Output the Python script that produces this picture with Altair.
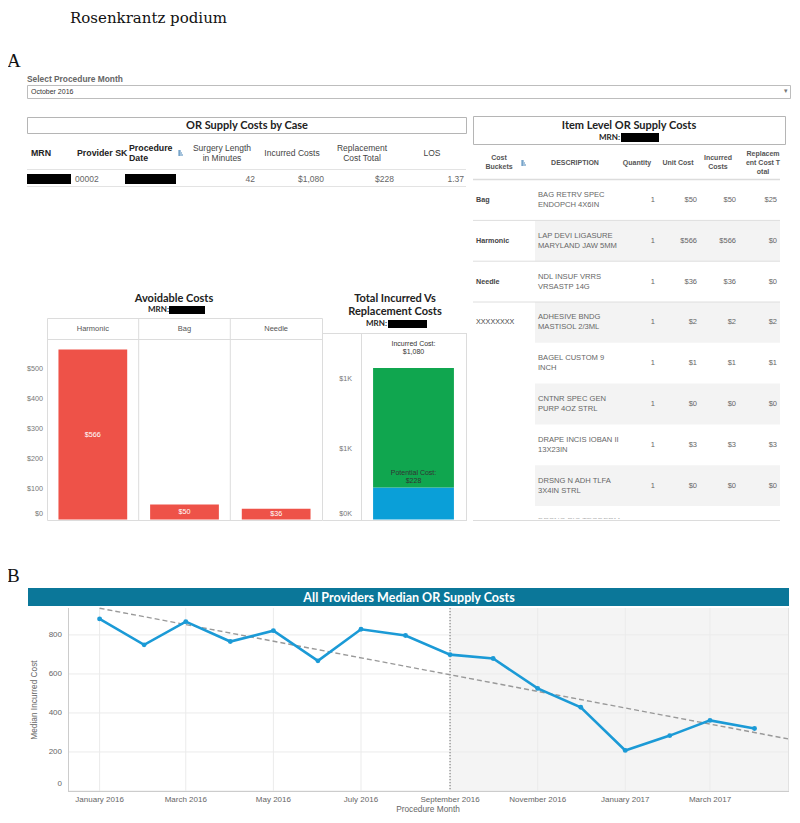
import altair as alt
import pandas as pd

# ---------------- data ----------------
selected_month = "October 2016"

case_provider = "00002"
case_minutes = 42
case_incurred = 1080
case_replacement = 228
case_los = 1.37

avoid_buckets = ["Harmonic", "Bag", "Needle"]
avoid_costs = [566, 50, 36]
avoid_ticks = [0, 100, 200, 300, 400, 500]

total_parts = ["Potential", "Incurred"]
total_ticks = [0, 500, 1000]
total_tick_labels = ["$0K", "$1K", "$1K"]

item_rows = [0, 1, 2, 3, 4, 5, 6, 7, 8]
item_bucket = ["Bag", "Harmonic", "Needle", "XXXXXXXX", "", "", "", "", ""]
item_desc = [
    "BAG RETRV SPEC\nENDOPCH 4X6IN",
    "LAP DEVI LIGASURE\nMARYLAND JAW 5MM",
    "NDL INSUF VRRS\nVRSASTP 14G",
    "ADHESIVE BNDG\nMASTISOL 2/3ML",
    "BAGEL CUSTOM 9\nINCH",
    "CNTNR SPEC GEN\nPURP 4OZ STRL",
    "DRAPE INCIS IOBAN II\n13X23IN",
    "DRSNG N ADH TLFA\n3X4IN STRL",
    "DRSNG PIC TEGDERM\n",
]
item_qty = [1, 1, 1, 1, 1, 1, 1, 1, None]
item_unit = [50, 566, 36, 2, 1, 0, 3, 0, None]
item_incurred = [50, 566, 36, 2, 1, 0, 3, 0, None]
item_replacement = [25, 0, 0, 2, 1, 0, 3, 0, None]

months = ["2016-01-01", "2016-02-01", "2016-03-01", "2016-04-01", "2016-05-01",
          "2016-06-01", "2016-07-01", "2016-08-01", "2016-09-01", "2016-10-01",
          "2016-11-01", "2016-12-01", "2017-01-01", "2017-02-01", "2017-03-01",
          "2017-04-01"]
median_cost = [882, 749, 868, 766, 822, 667, 829, 797, 699, 679, 526, 429, 208,
               284, 362, 320]
x_ticks = ["2016-01-01", "2016-03-01", "2016-05-01", "2016-07-01", "2016-09-01",
           "2016-11-01", "2017-01-01", "2017-03-01"]
x_tick_labels = ["January 2016", "March 2016", "May 2016", "July 2016",
                 "September 2016", "November 2016", "January 2017", "March 2017"]
y_ticks = [0, 200, 400, 600, 800]
band_start = "2016-09-01"
axis_start = "2015-12-10"
axis_end = "2017-04-25"

# ---------------- style ----------------
SANS = "Liberation Sans"
TFONT = "Lato"
SERIF = "DejaVu Serif"
RED = "#ee5248"
BLUE = "#0a9fd8"
GREEN = "#10a64f"
TEAL = "#0b7799"
LBLUE = "#1b9ad6"
OFF = 8


def p(v):
    return v - OFF


def txt(s, x, y, size=8, color="#555", weight="normal", align="left",
        baseline="middle", font=SANS, angle=None):
    kw = dict(text=s, fontSize=size, color=color, fontWeight=weight,
              align=align, baseline=baseline, font=font)
    if angle is not None:
        kw["angle"] = angle
    return alt.Chart().mark_text(**kw).encode(x=alt.value(p(x)), y=alt.value(p(y)))


def box(x1, y1, x2, y2, fill=None, stroke=None, sw=1.0):
    kw = {}
    if fill is not None:
        kw["fill"] = fill
    else:
        kw["fill"] = "#ffffff"
        kw["fillOpacity"] = 0
    if stroke is not None:
        kw["stroke"] = stroke
        kw["strokeWidth"] = sw
    return alt.Chart().mark_rect(**kw).encode(
        x=alt.value(p(x1)), x2=alt.value(p(x2)), y=alt.value(p(y1)), y2=alt.value(p(y2)))


def hline(x1, x2, y, color="#dddddd", sw=1.0, dash=None):
    kw = dict(color=color, strokeWidth=sw)
    if dash:
        kw["strokeDash"] = dash
    return alt.Chart().mark_rule(**kw).encode(
        x=alt.value(p(x1)), x2=alt.value(p(x2)), y=alt.value(p(y)))


def vline(x, y1, y2, color="#dddddd", sw=1.0, dash=None):
    kw = dict(color=color, strokeWidth=sw)
    if dash:
        kw["strokeDash"] = dash
    return alt.Chart().mark_rule(**kw).encode(
        x=alt.value(p(x)), y=alt.value(p(y1)), y2=alt.value(p(y2)))


def sort_icon(x, y):
    c = "#4a86b8"
    return [vline(x, y - 3, y + 3, color=c), hline(x, x + 2, y - 2, color=c),
            hline(x, x + 3, y, color=c), hline(x, x + 4, y + 2, color=c)]


layers = []

# ---------------- header ----------------
layers.append(txt("Rosenkrantz podium", 70, 22.5, size=15, color="#111", font=SERIF,
                  baseline="alphabetic"))
layers.append(txt("A", 7, 67, size=19, color="#111", font="Liberation Serif",
                  baseline="alphabetic"))
layers.append(txt("Select Procedure Month", 27, 79, size=8.4, weight="bold", color="#666"))
layers.append(box(27.5, 85.5, 790.5, 98.5, fill="#ffffff", stroke="#bdbdbd"))
layers.append(txt(selected_month, 31, 92, size=7, color="#333"))
layers.append(txt("▾", 786, 91, size=7, color="#777", align="center"))

# ---------------- case table ----------------
layers.append(box(27.5, 117.5, 466.5, 133.5, stroke="#b5b5b5"))
layers.append(txt("OR Supply Costs by Case", 247, 126, size=11, weight="bold",
                  color="#222", font=TFONT, align="center"))
hb = dict(size=8.8, weight="bold", color="#222")
hr = dict(size=8.5, color="#444", align="center")
layers += [txt("MRN", 31, 153, **hb), txt("Provider SK", 77, 153, **hb),
           txt("Procedure", 129, 148, **hb), txt("Date", 129, 158, **hb)]
layers += sort_icon(179, 153)
layers += [txt("Surgery Length", 222, 148, **hr), txt("in Minutes", 222, 158, **hr),
           txt("Incurred Costs", 292, 153, **hr),
           txt("Replacement", 362, 148, **hr), txt("Cost Total", 362, 158, **hr),
           txt("LOS", 432, 153, **hr)]
layers.append(hline(27, 466, 169.5, color="#e3e3e3"))
layers.append(hline(27, 466, 186.5, color="#e3e3e3"))
layers.append(box(27, 174, 71, 184, fill="#000000"))
layers.append(box(125, 174, 176, 184, fill="#000000"))
dr = dict(size=8.5, color="#666")
layers += [txt(case_provider, 75, 179, **dr),
           txt(f"{case_minutes}", 255, 179, align="right", **dr),
           txt(f"${case_incurred:,}", 324, 179, align="right", **dr),
           txt(f"${case_replacement:,}", 394, 179, align="right", **dr),
           txt(f"{case_los:.2f}", 464, 179, align="right", **dr)]

# ---------------- item table ----------------
layers.append(box(473.5, 116.5, 785.5, 144.5, stroke="#b5b5b5"))
layers.append(txt("Item Level OR Supply Costs", 629, 126, size=11, weight="bold",
                  color="#222", font=TFONT, align="center"))
layers.append(txt("MRN:", 620, 138, size=8, weight="bold", color="#222", font=TFONT,
                  align="right"))
layers.append(box(621, 133, 659, 142, fill="#000000"))
ih = dict(size=7, weight="bold", color="#555", align="center")
layers += [txt("Cost", 499, 158, **ih), txt("Buckets", 499, 167, **ih),
           txt("DESCRIPTION", 575, 163, **ih), txt("Quantity", 637, 163, **ih),
           txt("Unit Cost", 678, 163, **ih), txt("Incurred", 718, 158, **ih),
           txt("Costs", 718, 167, **ih), txt("Replacem", 763, 154, **ih),
           txt("ent Cost T", 763, 163, **ih), txt("otal", 763, 172, **ih)]
layers += sort_icon(522, 163)
layers.append(hline(473, 780, 179.5, color="#dcdcdc", sw=1.5))

item_df = pd.DataFrame({"row": item_rows, "bucket": item_bucket, "desc": item_desc,
                        "qty": item_qty, "unit": item_unit, "inc": item_incurred,
                        "repl": item_replacement})
rs = alt.Scale(type="band", domain=item_rows, range=[p(179.6), p(546.8)],
               paddingInner=0, paddingOuter=0)
yrow = alt.Y("row:O", scale=rs, bandPosition=0.5, axis=None)
ibase = alt.Chart(item_df)
item_layer = alt.layer(
    ibase.transform_filter("datum.row % 2 == 1").mark_rect(color="#f3f3f3").encode(
        x=alt.value(p(535)), x2=alt.value(p(780)),
        y=alt.Y("row:O", scale=rs, axis=None)),
    ibase.transform_filter("datum.bucket != '' && datum.row > 0").mark_rule(
        color="#dedede").encode(
        x=alt.value(p(473)), x2=alt.value(p(780)),
        y=alt.Y("row:O", scale=rs, bandPosition=0, axis=None)),
    ibase.transform_filter("datum.bucket != '' && datum.bucket != 'XXXXXXXX'").mark_text(
        align="left", fontSize=7.2, fontWeight="bold", color="#444", font=SANS).encode(
        x=alt.value(p(476)), y=yrow, text="bucket:N"),
    ibase.transform_filter("datum.bucket == 'XXXXXXXX'").mark_text(
        align="left", fontSize=7.2, color="#444", font=SANS).encode(
        x=alt.value(p(476)), y=yrow, text="bucket:N"),
    ibase.mark_text(align="left", fontSize=7.6, color="#666", font=SANS,
                    lineBreak="\n", lineHeight=10, dy=-5).encode(
        x=alt.value(p(538)), y=yrow, text="desc:N"),
    ibase.transform_filter("isValid(datum.qty)").mark_text(
        align="right", fontSize=7.5, color="#666", font=SANS).encode(
        x=alt.value(p(655)), y=yrow, text=alt.Text("qty:Q", format=".0f")),
    ibase.transform_filter("isValid(datum.unit)").mark_text(
        align="right", fontSize=7.5, color="#666", font=SANS).encode(
        x=alt.value(p(697)), y=yrow, text=alt.Text("unit:Q", format="$,.0f")),
    ibase.transform_filter("isValid(datum.inc)").mark_text(
        align="right", fontSize=7.5, color="#666", font=SANS).encode(
        x=alt.value(p(736)), y=yrow, text=alt.Text("inc:Q", format="$,.0f")),
    ibase.transform_filter("isValid(datum.repl)").mark_text(
        align="right", fontSize=7.5, color="#666", font=SANS).encode(
        x=alt.value(p(777)), y=yrow, text=alt.Text("repl:Q", format="$,.0f")),
)
layers.append(item_layer)
layers.append(box(470, 518.5, 792, 575, fill="#ffffff"))
layers.append(hline(473, 780, 520.5, color="#dcdcdc"))

# ---------------- avoidable costs ----------------
layers.append(txt("Avoidable Costs", 174, 299, size=11, weight="bold", color="#222",
                  font=TFONT, align="center"))
layers.append(txt("MRN:", 169, 310, size=8, weight="bold", color="#222", font=TFONT,
                  align="right"))
layers.append(box(169, 306, 205, 314, fill="#000000"))
layers.append(box(47.5, 318.5, 322.5, 520.5, stroke="#dcdcdc"))
layers.append(hline(47, 322, 339.5, color="#dcdcdc"))
layers.append(vline(138.7, 318, 520, color="#dcdcdc"))
layers.append(vline(230.3, 318, 520, color="#dcdcdc"))

avoid_df = pd.DataFrame({"bucket": avoid_buckets, "cost": avoid_costs})
avt_df = pd.DataFrame({"t": avoid_ticks})
ax = alt.X("bucket:N", sort=avoid_buckets,
           scale=alt.Scale(type="band", domain=avoid_buckets, range=[p(47), p(322)],
                           paddingInner=0.25, paddingOuter=0.125), axis=None)
ays = alt.Scale(domain=[0, 598], range=[p(519.5), p(340)], nice=False, zero=False)
avoid_layer = alt.layer(
    alt.Chart(avoid_df).mark_bar(color=RED).encode(
        x=ax, y=alt.Y("cost:Q", scale=ays, axis=None)),
    alt.Chart(avoid_df).transform_calculate(mid="datum.cost / 2").mark_text(
        color="white", fontSize=7.2, font=SANS).encode(
        x=ax, y=alt.Y("mid:Q", scale=ays, axis=None),
        text=alt.Text("cost:Q", format="$,.0f")),
    alt.Chart(avoid_df).mark_text(color="#555", fontSize=7.5, font=SANS).encode(
        x=ax, y=alt.value(p(329)), text="bucket:N"),
    alt.Chart(avt_df).transform_calculate(ly="max(datum.t, 17)").mark_text(
        color="#777", fontSize=7.2, font=SANS, align="right").encode(
        x=alt.value(p(43)), y=alt.Y("ly:Q", scale=ays, axis=None),
        text=alt.Text("t:Q", format="$,.0f")),
)
layers.append(avoid_layer)

# ---------------- total incurred vs replacement ----------------
layers.append(txt("Total Incurred Vs", 395, 299, size=11, weight="bold", color="#222",
                  font=TFONT, align="center"))
layers.append(txt("Replacement Costs", 395, 312, size=11, weight="bold", color="#222",
                  font=TFONT, align="center"))
layers.append(txt("MRN:", 387, 324, size=8, weight="bold", color="#222", font=TFONT,
                  align="right"))
layers.append(box(388, 320, 427, 328, fill="#000000"))
layers.append(hline(323, 467, 333.5, color="#dcdcdc"))
layers.append(vline(361.5, 333, 520, color="#dcdcdc"))
layers.append(vline(466.5, 333, 520, color="#dcdcdc"))
layers.append(hline(323, 467, 520.5, color="#dcdcdc"))

total_df = pd.DataFrame({"case": ["MRN", "MRN"], "part": total_parts,
                         "lo": [0, case_replacement],
                         "hi": [case_replacement, case_incurred]})
tt_df = pd.DataFrame({"t": total_ticks, "label": total_tick_labels})
tx = alt.X("case:N", scale=alt.Scale(type="band", domain=["MRN"], range=[p(361), p(466)],
                                     paddingInner=0.23, paddingOuter=0.115), axis=None)
tys = alt.Scale(domain=[0, 1329], range=[p(519.5), p(333)], nice=False, zero=False)
inc_lbl = pd.DataFrame({"case": ["MRN"], "v": [case_incurred],
                        "label": [f"Incurred Cost:\n${case_incurred:,}"]})
pot_lbl = pd.DataFrame({"case": ["MRN"], "v": [case_replacement],
                        "label": [f"Potential Cost:\n${case_replacement:,}"]})
total_layer = alt.layer(
    alt.Chart(total_df).mark_bar().encode(
        x=tx, y=alt.Y("lo:Q", scale=tys, axis=None), y2="hi:Q",
        color=alt.Color("part:N", scale=alt.Scale(domain=total_parts, range=[BLUE, GREEN]),
                        legend=None)),
    alt.Chart(inc_lbl).mark_text(fontSize=7, color="#333", font=SANS, lineBreak="\n",
                                 lineHeight=8.5, baseline="middle", dy=-24).encode(
        x=tx, y=alt.Y("v:Q", scale=tys, axis=None), text="label:N"),
    alt.Chart(pot_lbl).mark_text(fontSize=7, color="#333", font=SANS, lineBreak="\n",
                                 lineHeight=8.5, baseline="middle", dy=-15).encode(
        x=tx, y=alt.Y("v:Q", scale=tys, axis=None), text="label:N"),
    alt.Chart(tt_df).transform_calculate(ly="max(datum.t, 36)").mark_text(
        color="#777", fontSize=7.2, font=SANS, align="right").encode(
        x=alt.value(p(352)), y=alt.Y("ly:Q", scale=tys, axis=None), text="label:N"),
)
layers.append(total_layer)

# ---------------- panel B ----------------
layers.append(txt("B", 7, 582, size=19, color="#111", font="Liberation Serif",
                  baseline="alphabetic"))
layers.append(box(28, 588, 789, 606, fill=TEAL))
layers.append(txt("All Providers Median OR Supply Costs", 409, 597.5, size=12.5,
                  weight="bold", color="white", font=TFONT, align="center"))

line_df = pd.DataFrame({"month": months, "cost": median_cost})
band_df = pd.DataFrame({"start": [band_start], "end": [axis_end]})
xt_df = pd.DataFrame({"d": x_ticks, "label": x_tick_labels})
yt_df = pd.DataFrame({"t": y_ticks})
ms = lambda s: int(pd.Timestamp(s, tz="UTC").value // 10**6)
xs = alt.Scale(type="utc", domain=[ms(axis_start), ms(axis_end)],
               range=[p(68), p(789)], nice=False)
ys = alt.Scale(domain=[0, 938], range=[p(791), p(608)], nice=False, zero=False)

line_layer = alt.layer(
    alt.Chart(band_df).mark_rect(color="#f4f4f4").encode(
        x=alt.X("start:T", scale=xs, axis=None), x2="end:T",
        y=alt.value(p(608)), y2=alt.value(p(791))),
    alt.Chart(yt_df).mark_rule(color="#ebebeb", strokeWidth=1).encode(
        y=alt.Y("t:Q", scale=ys, axis=None), x=alt.value(p(68)), x2=alt.value(p(789))),
    alt.Chart(xt_df).mark_rule(color="#ebebeb", strokeWidth=1).encode(
        x=alt.X("d:T", scale=xs, axis=None), y=alt.value(p(608)), y2=alt.value(p(791))),
    alt.Chart(band_df).mark_rule(color="#888888", strokeWidth=1.2, strokeDash=[1.2, 1.8]).encode(
        x=alt.X("start:T", scale=xs, axis=None), y=alt.value(p(608)), y2=alt.value(p(791))),
    alt.Chart(line_df).transform_calculate(t="time(toDate(datum.month))").transform_regression(
        "t", "cost", extent=[ms(months[0]), ms(axis_end)]).mark_line(
        color="#999999", strokeWidth=1.4, strokeDash=[5, 3]).encode(
        x=alt.X("t:T", scale=xs, axis=None), y=alt.Y("cost:Q", scale=ys, axis=None)),
    alt.Chart(line_df).mark_line(color=LBLUE, strokeWidth=2.6).encode(
        x=alt.X("month:T", scale=xs, axis=None), y=alt.Y("cost:Q", scale=ys, axis=None)),
    alt.Chart(line_df).mark_circle(color=LBLUE, size=24, opacity=1).encode(
        x=alt.X("month:T", scale=xs, axis=None), y=alt.Y("cost:Q", scale=ys, axis=None)),
    alt.Chart(xt_df).mark_text(fontSize=8, color="#666", font=SANS).encode(
        x=alt.X("d:T", scale=xs, axis=None), y=alt.value(p(799.5)), text="label:N"),
    alt.Chart(yt_df).transform_calculate(ly="max(datum.t, 34)").mark_text(
        fontSize=8, color="#666", font=SANS, align="right").encode(
        x=alt.value(p(62)), y=alt.Y("ly:Q", scale=ys, axis=None),
        text=alt.Text("t:Q", format=".0f")),
)
layers.append(line_layer)
layers.append(vline(68.5, 608, 791, color="#cccccc"))
layers.append(vline(788.5, 608, 791, color="#e2e2e2"))
layers.append(hline(68, 789, 791.5, color="#cccccc"))
layers.append(txt("Median Incurred Cost", 35, 700, size=8.3, color="#666", align="center",
                  angle=270))
layers.append(txt("Procedure Month", 428, 810, size=8.3, color="#666", align="center"))

chart = alt.layer(*layers, data=alt.Data(values=[{"k": 0}])).properties(
    width=784, height=807, padding=0, autosize=alt.AutoSizeParams(type="none")
).resolve_scale(x="independent", y="independent", color="independent").configure_view(
    stroke="transparent")

chart.save("out.html", embed_options={"renderer": "svg", "actions": False})
